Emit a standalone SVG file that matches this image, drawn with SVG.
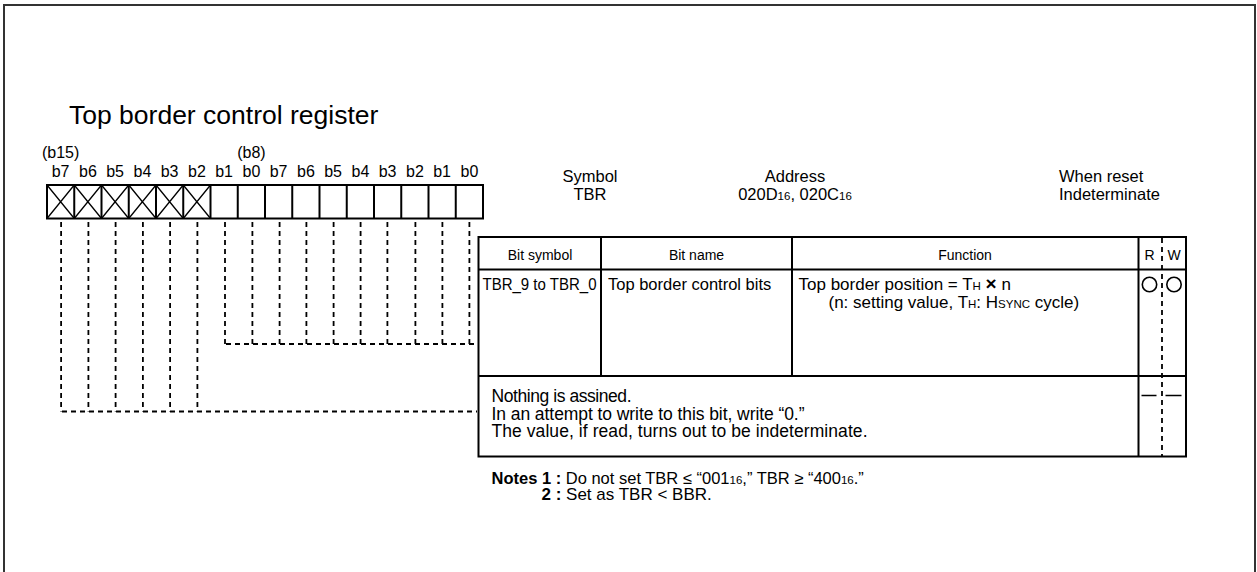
<svg xmlns="http://www.w3.org/2000/svg" width="1257" height="572" viewBox="0 0 1257 572">
<style>
  text{font-family:"Liberation Sans",Arial,Helvetica,sans-serif;fill:#000}
  .f16{font-size:16px}
  .f165{font-size:16.5px}
  .f17{font-size:17px}
  .f14{font-size:14px}
  .sm{font-size:11.5px}
  .b{font-weight:bold}
  .mid{text-anchor:middle}
  .ln{stroke:#000;stroke-width:2;fill:none}
  .thin{stroke:#000;stroke-width:1.3;fill:none}
  .dash{stroke:#000;stroke-width:1.8;fill:none;stroke-dasharray:5 4}
</style>
<rect x="0" y="0" width="1257" height="572" fill="#fff"/>
<g id="frame">
  <rect x="4" y="5" width="1251" height="620" fill="none" stroke="#333" stroke-width="2"/>
</g>
<g id="title">
  <text x="69" y="124" style="font-size:26.5px">Top border control register</text>
</g>
<g id="bit-labels" class="f16">
  <text class="mid" x="60.6" y="158">(b15)</text>
  <text class="mid" x="251.4" y="158">(b8)</text>
  <text class="mid" x="60.6" y="177">b7</text>
  <text class="mid" x="87.9" y="177">b6</text>
  <text class="mid" x="115.1" y="177">b5</text>
  <text class="mid" x="142.4" y="177">b4</text>
  <text class="mid" x="169.6" y="177">b3</text>
  <text class="mid" x="196.9" y="177">b2</text>
  <text class="mid" x="224.1" y="177">b1</text>
  <text class="mid" x="251.4" y="177">b0</text>
  <text class="mid" x="278.6" y="177">b7</text>
  <text class="mid" x="305.9" y="177">b6</text>
  <text class="mid" x="333.1" y="177">b5</text>
  <text class="mid" x="360.4" y="177">b4</text>
  <text class="mid" x="387.6" y="177">b3</text>
  <text class="mid" x="414.9" y="177">b2</text>
  <text class="mid" x="442.1" y="177">b1</text>
  <text class="mid" x="469.4" y="177">b0</text>
</g>
<g id="register">
  <rect class="ln" x="47" y="185" width="436" height="33.5"/>
  <path class="ln" d="M74.25 185V218.5M101.5 185V218.5M128.75 185V218.5M156 185V218.5M183.25 185V218.5M210.5 185V218.5M237.75 185V218.5M265 185V218.5M292.25 185V218.5M319.5 185V218.5M346.75 185V218.5M374 185V218.5M401.25 185V218.5M428.5 185V218.5M455.75 185V218.5"/>
  <path class="thin" d="M47 185L74.25 218.5M74.25 185L47 218.5M74.25 185L101.5 218.5M101.5 185L74.25 218.5M101.5 185L128.75 218.5M128.75 185L101.5 218.5M128.75 185L156 218.5M156 185L128.75 218.5M156 185L183.25 218.5M183.25 185L156 218.5M183.25 185L210.5 218.5M210.5 185L183.25 218.5"/>
</g>
<g id="info" class="f165">
  <text class="mid" x="590" y="182">Symbol</text>
  <text class="mid" x="590" y="200">TBR</text>
  <text class="mid" x="795" y="182">Address</text>
  <text class="mid" x="795" y="200">020D<tspan class="sm">16</tspan>, 020C<tspan class="sm">16</tspan></text>
  <text x="1059" y="182">When reset</text>
  <text x="1059" y="200">Indeterminate</text>
</g>
<g id="connectors">
  <path class="dash" d="M61.1 222V411.5M88.4 222V411.5M115.6 222V411.5M142.9 222V411.5M170.1 222V411.5M197.4 222V411.5M62 411.5H477"/>
  <path class="dash" d="M225 222V344M252.4 222V344M279.6 222V344M306.4 222V344M333.6 222V344M360.6 222V344M387.4 222V344M415.4 222V344M442.4 222V344M469.4 222V344M226 344H477"/>
</g>
<g id="table">
  <rect class="ln" x="478.5" y="237" width="707.5" height="219.5"/>
  <path class="ln" d="M478.5 269.5H1186M478.5 376H1186M601 237V376M792 237V376M1138.5 237V456.5"/>
  <path class="dash" d="M1162 238V456"/>
  <g class="f14">
    <text class="mid" x="540" y="259.5">Bit symbol</text>
    <text class="mid" x="696.5" y="259.5">Bit name</text>
    <text class="mid" x="965" y="259.5">Function</text>
    <text class="mid" x="1149.5" y="259.5">R</text>
    <text class="mid" x="1174" y="259.5">W</text>
  </g>
  <g class="f165">
    <text x="482.5" y="290" textLength="114" lengthAdjust="spacingAndGlyphs">TBR_9 to TBR_0</text>
    <text x="608" y="290">Top border control bits</text>
  </g>
  <g class="f17">
    <text x="798.5" y="290">Top border position = T<tspan class="sm">H</tspan> <tspan class="b" style="font-size:19px">×</tspan> n</text>
    <text x="828.5" y="308">(n: setting value, T<tspan class="sm">H</tspan>: H<tspan class="sm">SYNC</tspan> cycle)</text>
  </g>
  <g style="font-size:17.5px">
    <text x="491.5" y="402" textLength="140" lengthAdjust="spacing">Nothing is assined.</text>
    <text x="491.5" y="419.5" textLength="313" lengthAdjust="spacing">In an attempt to write to this bit, write “0.”</text>
    <text x="491.5" y="437" textLength="376" lengthAdjust="spacing">The value, if read, turns out to be indeterminate.</text>
  </g>
  <circle class="thin" cx="1149.5" cy="284.5" r="7.2" style="stroke-width:1.6"/>
  <circle class="thin" cx="1174" cy="284.5" r="7.2" style="stroke-width:1.6"/>
  <path class="thin" d="M1141.5 395.5H1156.5M1165.5 395.5H1181.5" style="stroke-width:1.6"/>
</g>
<g id="notes">
  <text class="f165" x="491.5" y="484"><tspan class="b">Notes 1 :</tspan> Do not set TBR ≤ “001<tspan class="sm">16</tspan>,” TBR ≥ “400<tspan class="sm">16</tspan>.”</text>
  <text class="f17" x="541.5" y="500"><tspan class="b">2 :</tspan> Set as TBR &lt; BBR.</text>
</g>
</svg>
